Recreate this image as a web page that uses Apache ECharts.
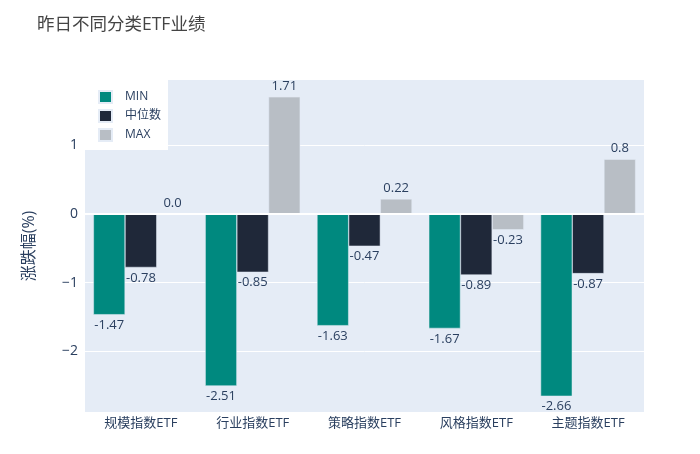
<!DOCTYPE html>
<html>
<head>
<meta charset="utf-8">
<script src="https://cdn.jsdelivr.net/npm/echarts@6/dist/echarts.min.js"></script>
<style>html,body{margin:0;padding:0;background:#fff}#c{width:700px;height:454px}</style>
</head>
<body>
<div id="c"></div>
<script>
var categories = ['规模指数ETF', '行业指数ETF', '策略指数ETF', '风格指数ETF', '主题指数ETF'];
var minValues = [-1.47, -2.51, -1.63, -1.67, -2.66];
var medianValues = [-0.78, -0.85, -0.47, -0.89, -0.87];
var maxValues = [0.0, 1.71, 0.22, -0.23, 0.8];
var seriesNames = ['MIN', '中位数', 'MAX'];
var yTicks = [-2, -1, 0, 1];

var FONT = '"Open Sans", "Noto Sans CJK SC", sans-serif';
var TXT = '#2a3f5f';
var colors = ['#00897f', '#1f2839', '#b8bec5'];

function fmt(v) { return (v === 0 ? '0.0' : String(v)); }
function items(arr) {
  return arr.map(function (v) {
    return { value: v, label: { position: v < 0 ? 'bottom' : 'top' } };
  });
}
function mkSeries(name, arr, color) {
  return {
    name: name,
    type: 'bar',
    data: items(arr),
    barGap: '0%',
    barCategoryGap: '15%',
    itemStyle: { color: color, borderColor: '#E5ECF6', borderWidth: 0.5 },
    label: {
      show: true,
      distance: 4,
      fontFamily: FONT,
      fontSize: 13,
      color: TXT,
      formatter: function (p) { return fmt(p.value); }
    }
  };
}

var chart = echarts.init(document.getElementById('c'), null, { renderer: 'canvas' });
chart.setOption({
  animation: false,
  backgroundColor: '#fff',
  title: {
    text: '昨日不同分类ETF业绩',
    left: 32, top: 11,
    textStyle: { fontFamily: FONT, fontSize: 17.5, fontWeight: 'normal', color: '#444' }
  },
  legend: {
    data: seriesNames,
    orient: 'vertical',
    left: 85, top: 80,
    padding: [10, 7, 8, 13],
    backgroundColor: '#fff',
    itemWidth: 13, itemHeight: 12, itemGap: 5,
    icon: 'rect',
    textStyle: { fontFamily: FONT, fontSize: 12, lineHeight: 12, color: TXT, padding: [0, 0, 0, 8] }
  },
  grid: {
    left: 85, right: 56, top: 80, bottom: 42,
    show: true, backgroundColor: '#E5ECF6', borderWidth: 0,
    containLabel: false
  },
  xAxis: {
    type: 'category',
    data: categories,
    axisLine: { show: false },
    axisTick: { show: false },
    axisLabel: { fontFamily: FONT, fontSize: 13, color: TXT, margin: 5 },
    splitLine: { show: false }
  },
  yAxis: {
    type: 'value',
    min: -2.89, max: 1.956,
    name: '涨跌幅(%)',
    nameLocation: 'middle',
    nameGap: 48,
    nameTextStyle: { fontFamily: FONT, fontSize: 16, color: TXT },
    axisLine: { show: false },
    axisTick: { show: false, customValues: yTicks },
    axisLabel: {
      customValues: yTicks,
      fontFamily: FONT, fontSize: 14, color: TXT, margin: 7,
      formatter: function (v) { return String(v).replace('-', '\u2212'); }
    },
    splitLine: { show: true, lineStyle: { color: '#fff', width: 1 } }
  },
  series: [
    mkSeries(seriesNames[0], minValues, colors[0]),
    mkSeries(seriesNames[1], medianValues, colors[1]),
    mkSeries(seriesNames[2], maxValues, colors[2]),
    {
      type: 'line', data: [], silent: true,
      markLine: {
        symbol: 'none', silent: true, label: { show: false },
        lineStyle: { color: '#fff', width: 2, type: 'solid' },
        data: [{ yAxis: 0 }]
      }
    }
  ]
});
</script>
</body>
</html>
